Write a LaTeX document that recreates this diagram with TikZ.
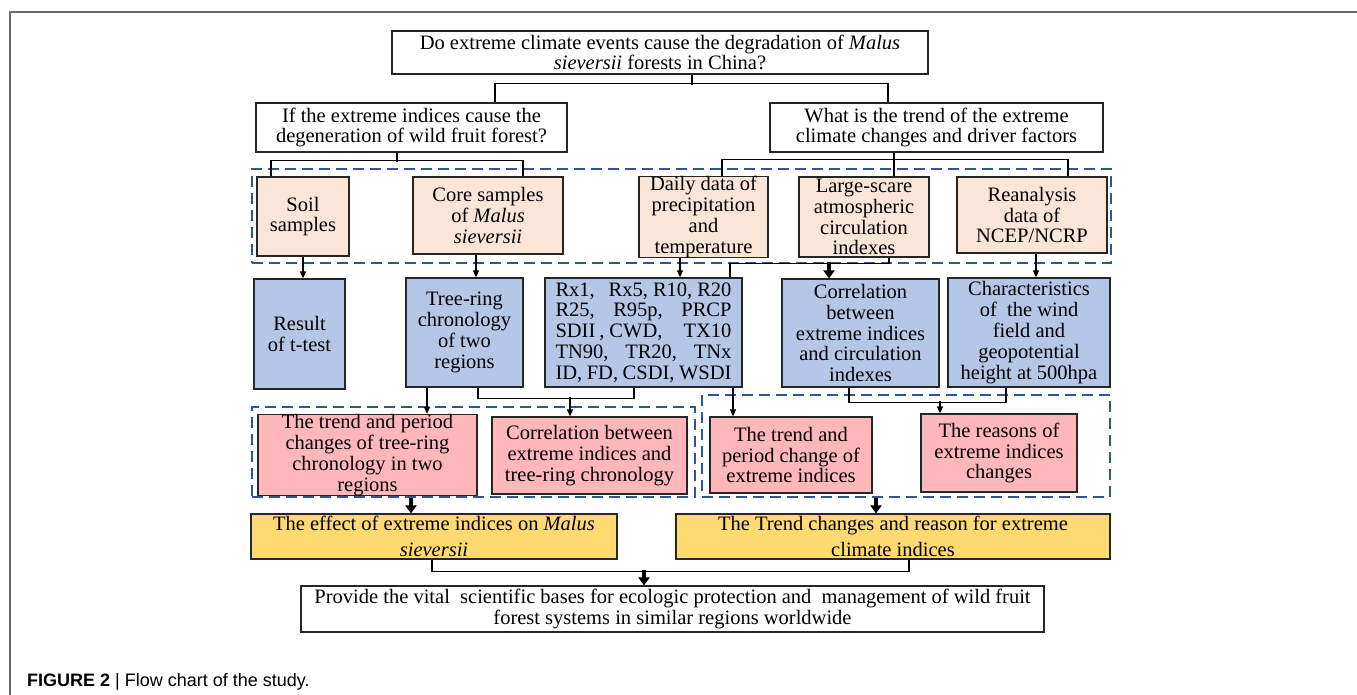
\documentclass[tikz,border=0pt]{standalone}
\usepackage{fontspec}
\setmainfont{Liberation Serif}
\setsansfont{Liberation Sans}
\usetikzlibrary{arrows.meta, positioning}
\definecolor{peach}{HTML}{FBE5D6}
\definecolor{lblue}{HTML}{B4C7E7}
\definecolor{lpink}{HTML}{FFB7BA}
\definecolor{lgold}{HTML}{FFDA70}
\definecolor{dashblue}{HTML}{2F5597}
\definecolor{framegray}{HTML}{6A6A6A}

\begin{document}
\begin{tikzpicture}[
    x=1pt, y=-1pt,
    base/.style={rectangle, draw=black!85, line width=1.2pt, align=center, inner sep=0pt, font=\fontsize{20.5}{20.8}\selectfont},
    qbox/.style={base, fill=white},
    databox/.style={base, fill=peach},
    resbox/.style={base, fill=lblue},
    outbox/.style={base, fill=lpink},
    sumbox/.style={base, fill=lgold, font=\fontsize{20.5}{26.5}\selectfont},
    grp/.style={rectangle, draw=dashblue, line width=1.6pt, dash pattern=on 11pt off 6pt, inner sep=0pt},
    conn/.style={line width=1.4pt},
    arrow/.style={-{Triangle[width=6pt,length=7pt]}, line width=1.4pt},
    bigarrow/.style={-{Triangle[width=11pt,length=8pt]}, line width=4pt}
]
\useasboundingbox (0,0) rectangle (1357,695);
\draw[framegray, line width=1.4pt] (1357,12) -- (10,12) -- (10,695);

% dashed groups
\node[grp, minimum width=859pt, minimum height=94pt] (grpA) at (681.5,216) {};
\node[grp, minimum width=443pt, minimum height=90pt] (grpB) at (473.5,452) {};
\node[grp, minimum width=408pt, minimum height=102pt] (grpC) at (906,446) {};

% questions
\node[qbox, minimum width=536pt, minimum height=43pt] (main) at (660,52.5) {Do extreme climate events cause the degradation of \textit{Malus}\\\textit{sieversii} forests in China?};
\node[qbox, minimum width=311pt, minimum height=49pt] (ifq) at (411.5,127.5) {If the extreme indices cause the\\degeneration of wild fruit forest?};
\node[qbox, minimum width=333pt, minimum height=49pt] (whatq) at (936.5,127.5) {What is the trend of the extreme\\climate changes and driver factors};

% data
\node[databox, minimum width=92pt, minimum height=79pt] (soil) at (303,216.5) {Soil\\samples};
\node[databox, minimum width=150pt, minimum height=77pt] (core) at (488,215.5) {Core samples\\of \textit{Malus}\\\textit{sieversii}};
\node[databox, minimum width=129pt, minimum height=80pt] (daily) at (703.5,217) {Daily data of\\precipitation\\and\\temperature};
\node[databox, minimum width=130pt, minimum height=80pt] (large) at (864,217) {Large-scare\\atmospheric\\circulation\\indexes};
\node[databox, minimum width=150pt, minimum height=76pt] (rean) at (1032,215) {Reanalysis\\data of\\NCEP/NCRP};

% results
\node[resbox, minimum width=91pt, minimum height=110pt] (result) at (299.5,334) {Result\\of t-test};
\node[resbox, minimum width=117pt, minimum height=109pt] (tree) at (464.5,332.5) {Tree-ring\\chronology\\of two\\regions};
\node[resbox, minimum width=197pt, minimum height=109pt] (rx) at (643.5,332.5) {\makebox[176pt][s]{Rx1,\hfill Rx5,\kern5pt R10,\kern5pt R20}\\\makebox[176pt][s]{R25,\hfill R95p,\hfill PRCP}\\\makebox[176pt][s]{SDII\kern4pt,\kern5pt CWD,\hfill TX10}\\\makebox[176pt][s]{TN90,\hfill TR20,\hfill TNx}\\\makebox[176pt][s]{ID, FD, CSDI, WSDI}};
\node[resbox, minimum width=157pt, minimum height=108pt] (corr) at (860.5,333) {Correlation\\between\\extreme indices\\and circulation\\indexes};
\node[resbox, minimum width=162pt, minimum height=109pt] (charac) at (1029,332.5) {Characteristics\\of\ \ the wind\\field and\\geopotential\\height at 500hpa};

% outcomes
\node[outbox, minimum width=219pt, minimum height=76pt] (pk1) at (367.5,455) {The trend and period\\changes of tree-ring\\chronology in two\\regions};
\node[outbox, minimum width=195pt, minimum height=77pt] (pk2) at (589.5,455.5) {Correlation between\\extreme indices and\\tree-ring chronology};
\node[outbox, minimum width=162pt, minimum height=76pt] (pk3) at (791,455) {The trend and\\period change of\\extreme indices};
\node[outbox, minimum width=156pt, minimum height=78pt] (pk4) at (999,453) {The reasons of\\extreme indices\\changes};

% summaries
\node[sumbox, minimum width=366pt, minimum height=45pt] (y1) at (434,536.5) {The effect of extreme indices on \textit{Malus}\\\textit{sieversii}};
\node[sumbox, minimum width=434pt, minimum height=45pt] (y2) at (893,536.5) {The Trend changes and reason for extreme\\climate indices};
\node[qbox, minimum width=743pt, minimum height=46pt] (prov) at (672.5,609) {Provide the vital\ \ scientific bases for ecologic protection and\ \ management of wild fruit\\forest systems in similar regions worldwide};

\node[anchor=base west, inner sep=0pt, font=\sffamily\fontsize{18}{20}\selectfont] (cap) at (27,686) {\textbf{FIGURE 2} | Flow chart of the study.};

% question level
\draw[conn] ([xshift=32pt]main.south) -- ++(0,10);
\draw[conn] ([xshift=83.5pt]ifq.north) -- ++(0,-19) -| ([xshift=-48.5pt]whatq.north);

% data level
\draw[conn] ([xshift=-14.5pt]ifq.south) -- ++(0,9);
\draw[conn] ([xshift=-32pt]soil.north) -- ++(0,-16) -| ([xshift=35pt]core.north);
\draw[conn] ([xshift=-42.5pt]whatq.south) -- ([xshift=30pt]large.north);
\draw[conn] ([xshift=18.5pt]daily.north) -- ++(0,-16) -| ([xshift=36pt]rean.north);

% to results
\draw[arrow] (soil.south) -- (soil.south |- result.north);
\draw[arrow] ([xshift=-12pt]core.south) -- ([xshift=-12pt]core.south |- tree.north);
\draw[arrow] ([xshift=-23.5pt]daily.south) -- ([xshift=-23.5pt]daily.south |- rx.north);
\draw[conn] ([xshift=25pt]large.south) -- ++(0,6) -| ([xshift=86.5pt]rx.north);
\draw[bigarrow] ([xshift=-31.5pt,yshift=16pt]corr.north) -- ([xshift=-31.5pt]corr.north);
\draw[arrow] ([xshift=4pt]rean.south) -- ([xshift=4pt]rean.south |- charac.north);

% to outcomes
\draw[arrow] ([xshift=-37.5pt]tree.south) -- ([xshift=-37.5pt]tree.south |- pk1.north);
\draw[conn] ([xshift=13.5pt]tree.south) -- ++(0,11) -| ([xshift=-9.5pt]rx.south);
\draw[arrow] ([xshift=-19.5pt,yshift=19pt]pk2.north) -- ([xshift=-19.5pt]pk2.north);
\draw[arrow] ([xshift=89.5pt]rx.south) -- ([xshift=89.5pt]rx.south |- pk3.north);
\draw[conn] ([xshift=-11.5pt]corr.south) -- ++(0,15) -| ([xshift=-23pt]charac.south);
\draw[arrow] ([xshift=-59pt,yshift=12pt]pk4.north) -- ([xshift=-59pt]pk4.north);

% summaries
\draw[bigarrow] ([xshift=-62.5pt]grpB.south) -- ([xshift=-62.5pt]grpB.south |- y1.north);
\draw[bigarrow] ([xshift=-30pt]grpC.south) -- ([xshift=-30pt]grpC.south |- y2.north);
\draw[conn] ([xshift=-2pt]y1.south) -- ++(0,12) -| ([xshift=16pt]y2.south);
\draw[bigarrow] ([xshift=-28.5pt,yshift=15pt]prov.north) -- ([xshift=-28.5pt]prov.north);

\end{tikzpicture}
\end{document}
